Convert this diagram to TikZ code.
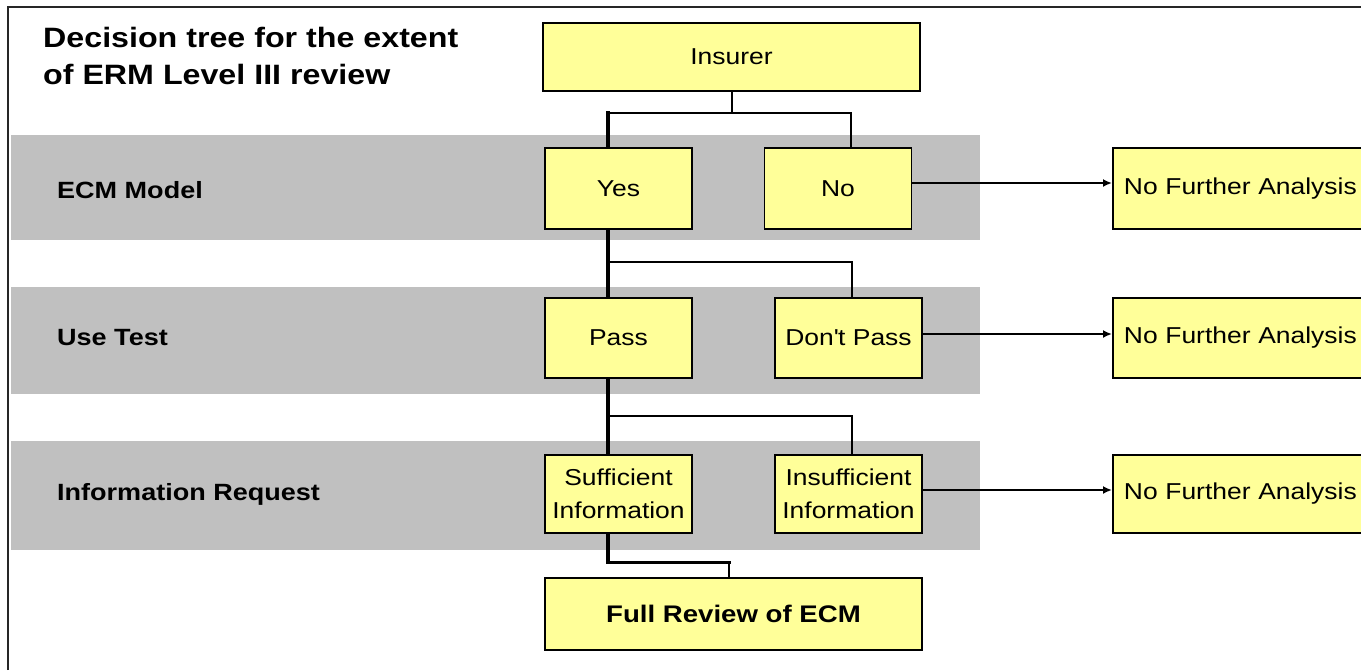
\documentclass[tikz,border=0pt]{standalone}
\usepackage{fontspec}
\setmainfont[FakeStretch=1.15]{Liberation Sans}
\usetikzlibrary{arrows.meta,calc}
\definecolor{boxyellow}{RGB}{255,255,153}
\definecolor{bandgray}{RGB}{192,192,192}
\tikzset{
  band/.style={fill=bandgray,draw=none},
  ybox/.style={draw=black,line width=1.8pt,fill=boxyellow,inner sep=0pt,
    font=\fontsize{23}{27}\selectfont,align=center},
  nfabox/.style={ybox,anchor=west,minimum width=290pt,minimum height=81pt,
    text width=268pt,align=left,inner xsep=11pt},
  rowlabel/.style={anchor=west,inner sep=0pt,font=\bfseries\fontsize{23.5}{27}\selectfont},
  tline/.style={line width=2pt,line cap=rect},
  bline/.style={line width=4.5pt,line cap=rect},
  mline/.style={line width=3pt,line cap=rect},
  arr/.style={line width=2pt,-{Latex[length=9pt,width=8pt]}},
  frameline/.style={line width=2pt,draw=black!85}
}
\begin{document}
\begin{tikzpicture}[x=1pt,y=-1pt]
\clip (0,0) rectangle (1361,670);
\fill[white] (0,0) rectangle (1361,670);
% frame
\draw[frameline] (8,670) -- (8,7) -- (1361,7);
% bands
\fill[band] (11,135) rectangle (980,240);
\fill[band] (11,287) rectangle (980,394);
\fill[band] (11,441) rectangle (980,550);
% title
\node[anchor=north west,inner sep=0pt,align=left,font=\bfseries\fontsize{28}{37}\selectfont]
  (title) at (43,27) {Decision tree for the extent\\of ERM Level III review};
% row labels
\node[rowlabel] (l1) at (57,190) {ECM Model};
\node[rowlabel] (l2) at (57,338) {Use Test};
\node[rowlabel] (l3) at (57,494) {Information Request};
% boxes
\node[ybox,minimum width=377pt,minimum height=68pt] (ins) at (731.5,57) {Insurer};
\node[ybox,minimum width=147pt,minimum height=81pt] (yes) at (618.5,188.5) {Yes};
\node[ybox,minimum width=147pt,minimum height=81pt] (no) at (838,188.5) {No};
\node[ybox,minimum width=147pt,minimum height=80pt] (pass) at (618.5,338) {Pass};
\node[ybox,minimum width=147pt,minimum height=80pt] (dp) at (848.5,338) {Don\textquotesingle t Pass};
\node[ybox,minimum width=147pt,minimum height=78pt,font=\fontsize{23}{33}\selectfont] (suf) at (618.5,494) {Sufficient\\Information};
\node[ybox,minimum width=147pt,minimum height=78pt,font=\fontsize{23}{33}\selectfont] (insf) at (848.5,494) {Insufficient\\Information};
\node[ybox,minimum width=377pt,minimum height=72pt,font=\bfseries\fontsize{24}{28}\selectfont] (full) at (733.5,614) {Full Review of ECM};
\node[nfabox] (nfa1) at (1112,188.5) {No Further Analysis};
\node[nfabox,minimum height=80pt] (nfa2) at (1112,338) {No Further Analysis};
\node[nfabox,minimum height=78pt] (nfa3) at (1112,494) {No Further Analysis};
% connectors
\coordinate (b1) at (608,113);
\coordinate (c1) at (851,113);
\draw[tline] (ins.south) -- (ins.south |- b1);
\draw[tline] (b1) -- (c1) -- (c1 |- no.north);
\draw[bline] (b1) -- (b1 |- yes.north);
\coordinate (b2) at (608,262);
\coordinate (c2) at (852,262);
\draw[bline] (b2 |- yes.south) -- (b2 |- pass.north);
\draw[tline] (b2) -- (c2) -- (c2 |- dp.north);
\coordinate (b3) at (608,416);
\coordinate (c3) at (852,416);
\draw[bline] (b3 |- pass.south) -- (b3 |- suf.north);
\draw[tline] (b3) -- (c3) -- (c3 |- insf.north);
\coordinate (b4) at (608,562);
\coordinate (c4) at (729,562);
\draw[bline] (b4 |- suf.south) -- (b4);
\draw[mline] (b4) -- (c4);
\draw[tline] (c4) -- (c4 |- full.north);
% arrows
\draw[arr] ([yshift=5.5pt]no.east) -- ([yshift=5.5pt]nfa1.west);
\draw[arr] ([yshift=4pt]dp.east) -- ([yshift=4pt]nfa2.west);
\draw[arr] ([yshift=4pt]insf.east) -- ([yshift=4pt]nfa3.west);
\end{tikzpicture}
\end{document}
